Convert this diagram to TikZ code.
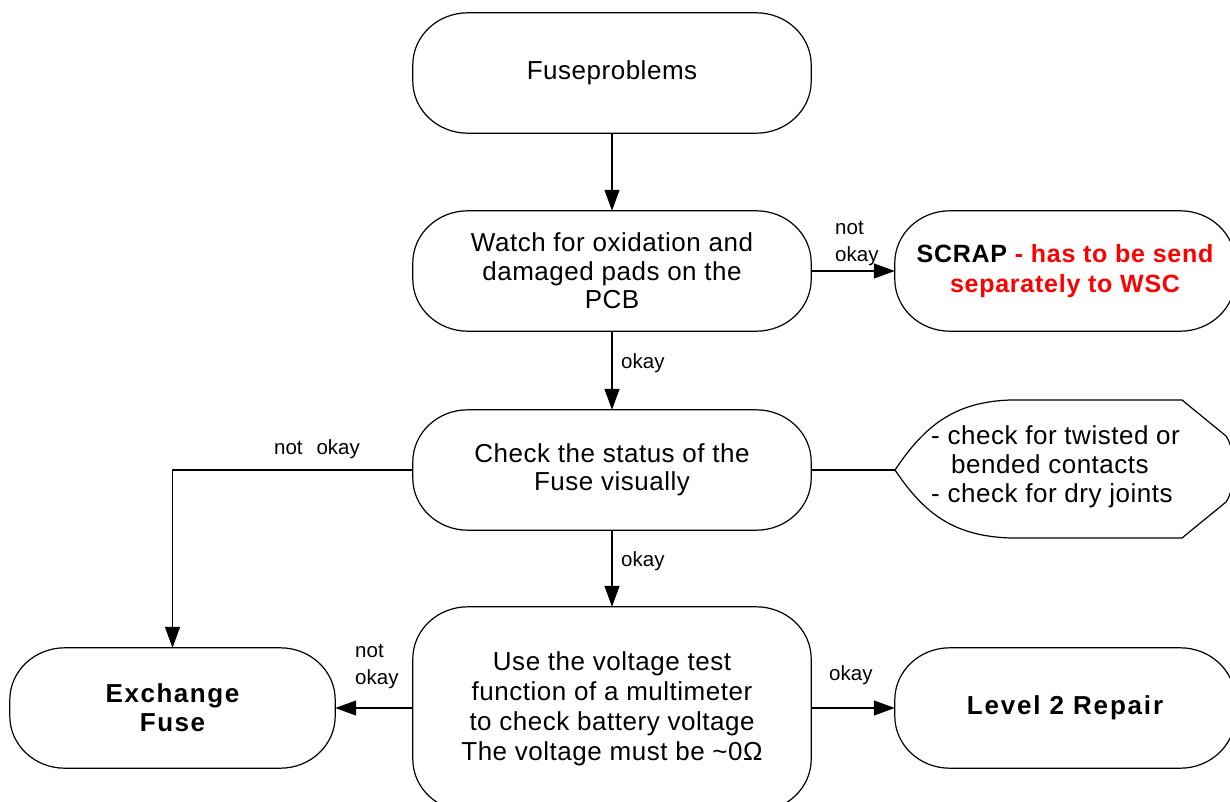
\documentclass[tikz,border=0pt]{standalone}
\usepackage{fontspec}
\setmainfont{Liberation Sans}
\usetikzlibrary{arrows.meta}
\definecolor{scrapred}{RGB}{255,0,0}
\tikzset{
  boxline/.style={line width=1.2pt, line join=round},
  conn/.style={line width=1.2pt, -{Triangle[length=21pt,width=15pt]}},
  plainline/.style={line width=1.2pt},
  boxnode/.style={draw=none, inner sep=0pt, align=center,
    font=\fontsize{26}{28.5}\selectfont\addfontfeatures{LetterSpace=2}},
  boldnode/.style={draw=none, inner sep=0pt, align=center,
    font=\fontsize{26}{29}\selectfont\bfseries\addfontfeatures{LetterSpace=6}},
  lbl/.style={inner sep=0pt, align=left, font=\fontsize{20.5}{27}\selectfont},
}
\newcommand\ebox[1]{%
  \draw[boxline] ([xshift=55pt]#1.north west) -- ([xshift=-55pt]#1.north east)
    arc[start angle=90,end angle=0,x radius=55pt,y radius=52pt]
    -- ([yshift=52pt]#1.south east)
    arc[start angle=0,end angle=-90,x radius=55pt,y radius=52pt]
    -- ([xshift=55pt]#1.south west)
    arc[start angle=270,end angle=180,x radius=55pt,y radius=52pt]
    -- ([yshift=-52pt]#1.north west)
    arc[start angle=180,end angle=90,x radius=55pt,y radius=52pt] -- cycle;}
\begin{document}
\begin{tikzpicture}[x=1pt,y=-1pt]
\useasboundingbox (0,0) rectangle (1230,802);
\clip (0,0) rectangle (1230,802);
\fill[white] (0,0) rectangle (1230,802);

% nodes
\node[boxnode, minimum width=398pt, minimum height=120pt] (fuse) at (612,73) {Fuseproblems};
\node[boxnode, minimum width=398pt, minimum height=120pt] (watch) at (612,271)
  {Watch for oxidation and\\damaged pads on the\\PCB};
\node[boxnode, minimum width=340pt, minimum height=120pt,
  font=\fontsize{25}{30}\selectfont\bfseries\addfontfeatures{LetterSpace=3}] (scrap) at (1065,271)
  {SCRAP \textcolor{scrapred}{- has to be send}\\\textcolor{scrapred}{separately to WSC}};
\node[boxnode, minimum width=398pt, minimum height=120pt] (check) at (612,470)
  {Check the status of the\\Fuse visually};
\node[boxnode, minimum width=398pt, minimum height=204pt,
  font=\fontsize{26}{30}\selectfont\addfontfeatures{LetterSpace=2}] (volt) at (612,709)
  {Use the voltage test\\function of a multimeter\\to check battery voltage\\The voltage must be {\char"007E}0Ω};
\node[boldnode, minimum width=325pt, minimum height=120pt] (exch) at (172.5,708)
  {Exchange\\Fuse};
\node[boldnode, minimum width=340pt, minimum height=120pt,
  font=\fontsize{26}{29}\selectfont\bfseries\addfontfeatures{LetterSpace=7}] (level) at (1065,708)
  {Level 2 Repair};
\node[inner sep=0pt, align=left, anchor=west,
  font=\fontsize{26}{29}\selectfont\addfontfeatures{LetterSpace=2}] (note) at (931,467)
  {- check for twisted or\\\hspace*{20pt}bended contacts\\- check for dry joints};
\coordinate (notetip) at (895,470);

% box outlines
\ebox{fuse}
\ebox{watch}
\ebox{scrap}
\ebox{check}
\ebox{volt}
\ebox{exch}
\ebox{level}
\draw[boxline] (notetip) .. controls (925,425) and (955,402) .. (1010,400)
  -- (1182,400) -- (1226,436) .. controls (1236,450) and (1236,488) .. (1226,502)
  -- (1182,538) -- (1010,538) .. controls (955,536) and (925,515) .. (notetip) -- cycle;

% connectors
\draw[conn] (fuse.south) -- (watch.north);
\draw[conn] (watch.east) -- (scrap.west);
\draw[conn] (watch.south) -- (check.north);
\draw[conn] (check.west) -| (exch.north);
\draw[plainline] (check.east) -- (notetip);
\draw[conn] (check.south) -- (volt.north);
\draw[conn] (volt.west |- exch.east) -- (exch.east);
\draw[conn] (volt.east |- level.west) -- (level.west);

% labels
\node[lbl, anchor=west] (l1) at (835,243.5) {not\\okay};
\node[lbl, anchor=west] (l2) at (621,363) {okay};
\node[lbl] (l3) at (317,449) {not\hspace{14pt}okay};
\node[lbl, anchor=west] (l4) at (621,561) {okay};
\node[lbl, anchor=west] (l5) at (355,666) {not\\okay};
\node[lbl, anchor=west] (l6) at (829,675) {okay};
\end{tikzpicture}
\end{document}
